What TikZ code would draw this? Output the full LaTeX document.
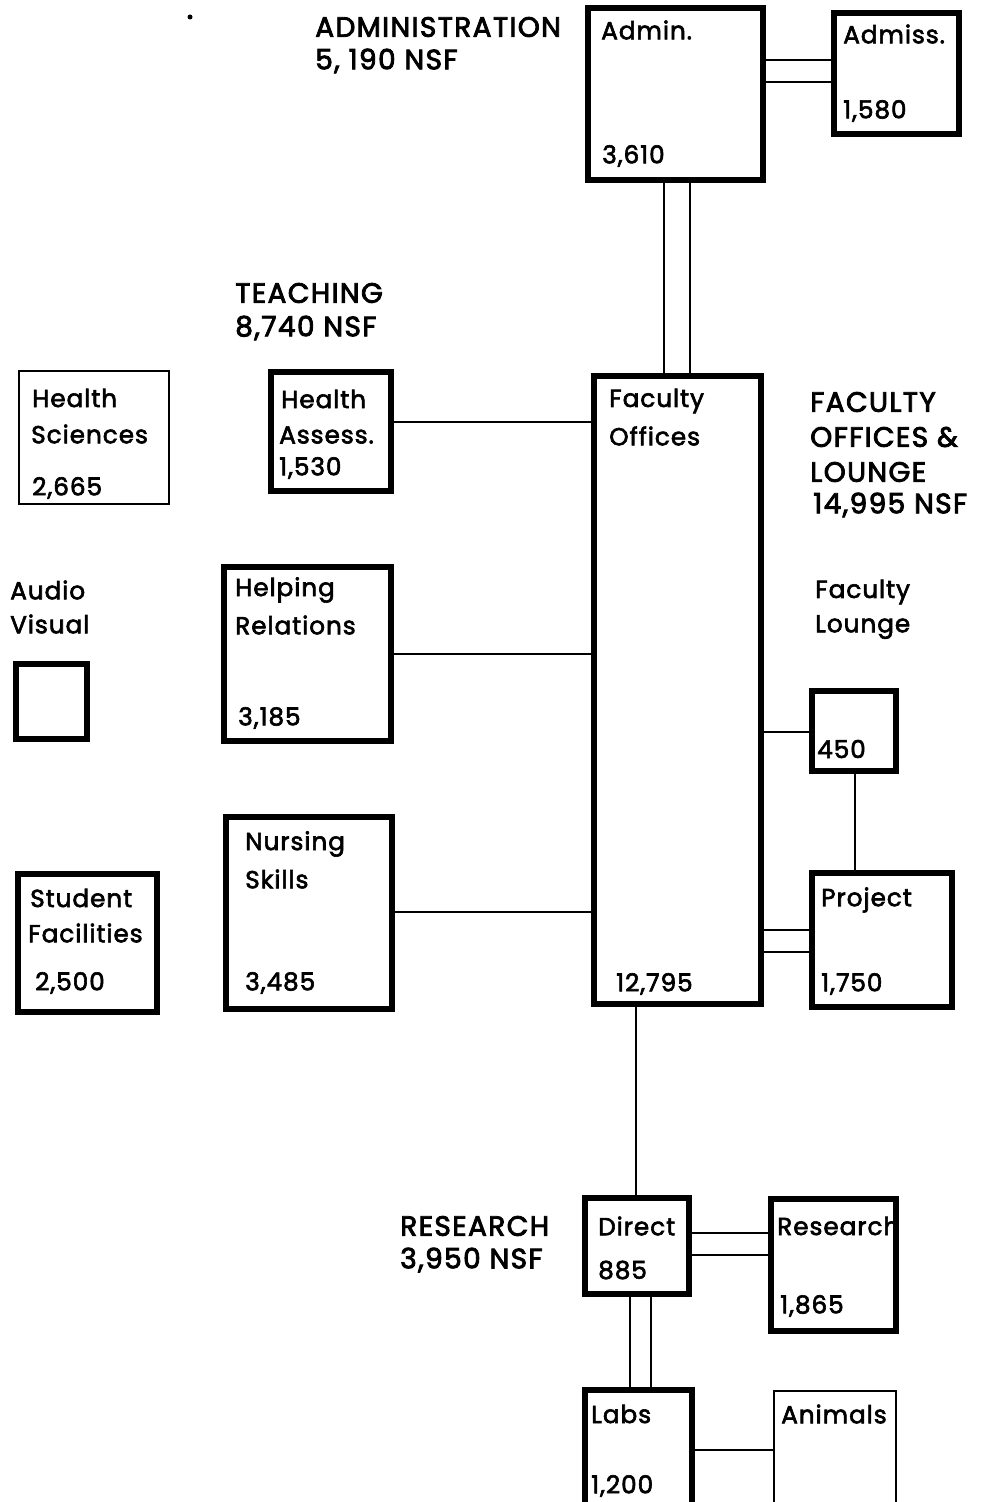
\documentclass[tikz,border=0pt]{standalone}
\usepackage{fontspec}
\setmainfont{Poppins}
\newfontfamily\headfont{Poppins}[FakeBold=3,LetterSpace=5]
\newfontfamily\boxfont{Poppins}[FakeBold=2.5,LetterSpace=4]
\usetikzlibrary{fit}
\begin{document}
\begin{tikzpicture}[x=0.75pt,y=-0.75pt,
  heavybox/.style={draw=black,line width=4.2pt,inner sep=0pt},
  lightbox/.style={draw=black,line width=2.2pt,inner sep=0pt},
  conn/.style={draw=black,line width=1.8pt},
  lbl/.style={anchor=west,inner sep=0pt,font=\boxfont\fontsize{18.5}{20}\selectfont},
  head/.style={anchor=west,inner sep=0pt,font=\headfont\fontsize{21}{23}\selectfont}]
\path[use as bounding box] (0,0) rectangle (992,1502);
\clip (0,0) rectangle (992,1502);
\fill[white] (0,0) rectangle (992,1502);

% boxes
\node[heavybox,fit={(588,8) (763,180)}] (admin) {};
\node[heavybox,fit={(834,13) (959,134)}] (admiss) {};
\node[heavybox,fit={(594,376) (761,1004)}] (fac) {};
\node[lightbox,fit={(19,371) (169,504)}] (hs) {};
\node[heavybox,fit={(271,372) (391,491)}] (ha) {};
\node[heavybox,fit={(16,664) (87,739)}] (av) {};
\node[heavybox,fit={(224,567) (391,741)}] (hr) {};
\node[heavybox,fit={(18,874) (157,1012)}] (sf) {};
\node[heavybox,fit={(226,817) (392,1009)}] (ns) {};
\node[heavybox,fit={(812,691) (896,771)}] (fl) {};
\node[heavybox,fit={(812,873) (952,1007)}] (proj) {};
\node[heavybox,fit={(585,1198) (689,1294)}] (dir) {};
\node[heavybox,fit={(771,1199) (896,1331)}] (res) {};
\node[heavybox,fit={(585,1390) (692,1530)}] (labs) {};
\node[lightbox,fit={(774,1391) (896,1530)}] (anim) {};

% connectors
\draw[conn] (admin.east |- 0,60) -- (admiss.west |- 0,60);
\draw[conn] (admin.east |- 0,82) -- (admiss.west |- 0,82);
\draw[conn] (admin.south -| 664,0) -- (fac.north -| 664,0);
\draw[conn] (admin.south -| 690,0) -- (fac.north -| 690,0);
\draw[conn] (ha.east |- 0,422) -- (fac.west |- 0,422);
\draw[conn] (hr.east |- 0,654) -- (fac.west |- 0,654);
\draw[conn] (ns.east |- 0,912) -- (fac.west |- 0,912);
\draw[conn] (fac.east |- 0,732) -- (fl.west |- 0,732);
\draw[conn] (fl.south -| 855,0) -- (proj.north -| 855,0);
\draw[conn] (fac.east |- 0,930) -- (proj.west |- 0,930);
\draw[conn] (fac.east |- 0,952) -- (proj.west |- 0,952);
\draw[conn] (fac.south -| 636,0) -- (dir.north -| 636,0);
\draw[conn] (dir.east |- 0,1233) -- (res.west |- 0,1233);
\draw[conn] (dir.east |- 0,1255) -- (res.west |- 0,1255);
\draw[conn] (dir.south -| 630,0) -- (labs.north -| 630,0);
\draw[conn] (dir.south -| 651,0) -- (labs.north -| 651,0);
\draw[conn] (labs.east |- 0,1450) -- (anim.west |- 0,1450);

% group headings
\node[head] (hAdm1) at (315,27) {ADMINISTRATION};
\node[head] (hAdm2) at (315,61) {5, 190 NSF};
\node[head] (hT1) at (235,293) {TEACHING};
\node[head] (hT2) at (235,328) {8,740 NSF};
\node[head] (hF1) at (810,402) {FACULTY};
\node[head] (hF2) at (810,437) {OFFICES \&};
\node[head] (hF3) at (810,472) {LOUNGE};
\node[head] (hF4) at (813,505) {14,995 NSF};
\node[head] (hR1) at (400,1226) {RESEARCH};
\node[head] (hR2) at (400,1260) {3,950 NSF};
\node[lbl] (tAV1) at (10,590) {Audio};
\node[lbl] (tAV2) at (10,624) {Visual};
\node[lbl] (tFL1) at (815,592) {Faculty};
\node[lbl] (tFL2) at (815,627) {Lounge};

% box texts
\node[lbl] (tA1) at (601,30) {Admin.};
\node[lbl] (tA2) at (602,156) {3,610};
\node[lbl] (tM1) at (843,34) {Admiss.};
\node[lbl] (tM2) at (843,111) {1,580};
\node[lbl] (tHS1) at (32,398) {Health};
\node[lbl] (tHS2) at (31,434) {Sciences};
\node[lbl] (tHS3) at (32,488) {2,665};
\node[lbl] (tHA1) at (281,399) {Health};
\node[lbl] (tHA2) at (279,435) {Assess.};
\node[lbl] (tHA3) at (279,468) {1,530};
\node[lbl] (tHR1) at (235,590) {Helping};
\node[lbl] (tHR2) at (235,625) {Relations};
\node[lbl] (tHR3) at (238,718) {3,185};
\node[lbl] (tSF1) at (30,898) {Student};
\node[lbl] (tSF2) at (28,933) {Facilities};
\node[lbl] (tSF3) at (35,983) {2,500};
\node[lbl] (tNS1) at (245,844) {Nursing};
\node[lbl] (tNS2) at (245,879) {Skills};
\node[lbl] (tNS3) at (245,983) {3,485};
\node[lbl] (tFO1) at (609,401) {Faculty};
\node[lbl] (tFO2) at (609,436) {Offices};
\node[lbl] (tFO3) at (616,984) {12,795};
\node[lbl] (tFL3) at (817,749) {450};
\node[lbl] (tP1) at (821,900) {Project};
\node[lbl] (tP2) at (821,984) {1,750};
\node[lbl] (tD1) at (598,1226) {Direct};
\node[lbl] (tD2) at (598,1270) {885};
\node[lbl] (tR1) at (777,1226) {Research};
\node[lbl] (tR2) at (780,1306) {1,865};
\node[lbl] (tL1) at (591,1414) {Labs};
\node[lbl] (tL2) at (591,1486) {1,200};
\node[lbl] (tN1) at (781,1414) {Animals};
\fill (190,17) circle (2.5);
\end{tikzpicture}
\end{document}
